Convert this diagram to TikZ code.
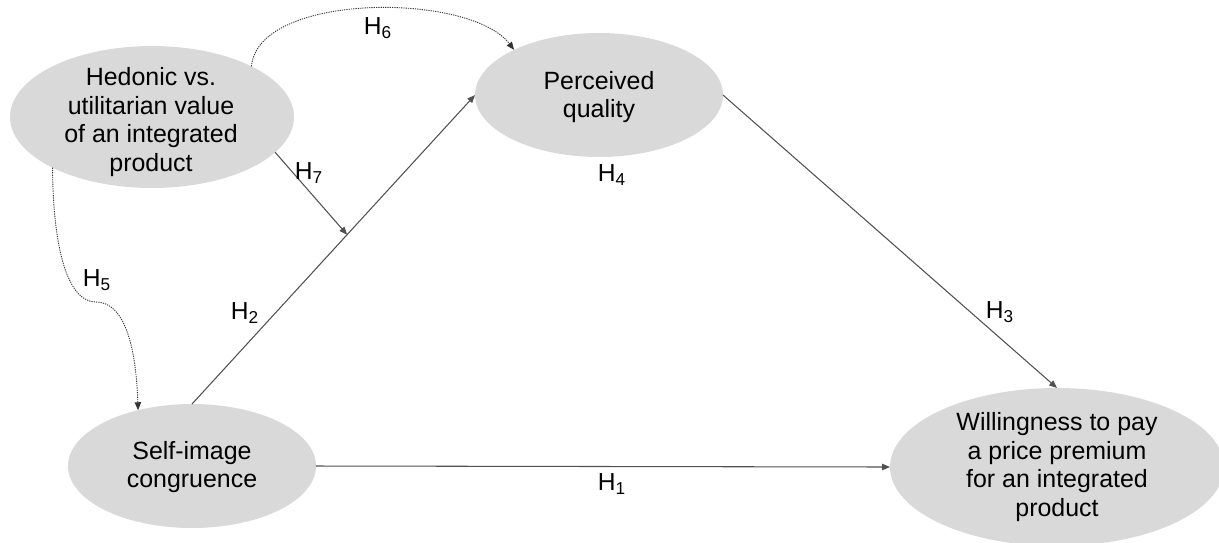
\documentclass[tikz,border=0pt]{standalone}
\usepackage{fontspec}
\setmainfont{Liberation Sans}
\usetikzlibrary{shapes.geometric,arrows.meta,calc}
\definecolor{ellfill}{HTML}{D9D9D9}
\definecolor{linecol}{HTML}{505050}
\tikzset{
  ell/.style={ellipse, fill=ellfill, draw=none, inner sep=0pt, outer sep=0pt},
  txt/.style={align=center, font=\fontsize{14.2}{16.3}\selectfont, inner sep=0pt},
  lab/.style={font=\fontsize{14}{16}\selectfont, inner sep=0pt},
  tip/.style={-{Triangle[length=4.5pt,width=3.6pt]}},
  solidarrow/.style={tip, draw=linecol, line width=0.6pt},
  dotarrow/.style={tip, draw=black!80, line width=0.5pt, dash pattern=on 0.7pt off 0.6pt}
}
\begin{document}
\begin{tikzpicture}[x=0.02cm,y=-0.02cm]
\useasboundingbox (0,0) rectangle (1219,542);
% ellipses
\node[ell, minimum width=5.68cm, minimum height=2.84cm] (hv) at (152,117) {};
\node[ell, minimum width=4.96cm, minimum height=2.48cm] (pq) at (599,95) {};
\node[ell, minimum width=4.96cm, minimum height=2.48cm] (sic) at (192,466) {};
\node[ell, minimum width=6.68cm, minimum height=3.16cm] (wtp) at (1057,467) {};
% texts
\node[txt] (hvt) at (151,122) {Hedonic vs.\\utilitarian value\\of an integrated\\product};
\node[txt] (pqt) at (599,97) {Perceived\\quality};
\node[txt] (sict) at (192,467) {Self-image\\congruence};
\node[txt] (wtpt) at (1057,467) {Willingness to pay\\a price premium\\for an integrated\\product};
% connectors
\draw[solidarrow] (sic.north) -- coordinate[pos=0.548] (m) (pq.west);
\draw[solidarrow] (pq.east) -- (wtp.north);
\draw[solidarrow] (sic.east) -- (wtp.west);
\draw[solidarrow] (hv.-16) -- (m);
\coordinate (k5) at (96,302);
\draw[dotarrow] (hv.27.5) .. controls (258,-8) and (470,-8) .. (pq.152);
\draw[dotarrow] (hv.207) .. controls (53,250) and (68,302) .. (k5) .. controls (124,302) and (136,345) .. (sic.134);
% labels
\node[lab] (h1) at (612,484) {H\textsubscript{1}};
\node[lab] (h2) at (245,313) {H\textsubscript{2}};
\node[lab] (h3) at (1000,312) {H\textsubscript{3}};
\node[lab] (h4) at (612,175) {H\textsubscript{4}};
\node[lab] (h5) at (97,280) {H\textsubscript{5}};
\node[lab] (h6) at (378,28) {H\textsubscript{6}};
\node[lab] (h7) at (309,173) {H\textsubscript{7}};
\end{tikzpicture}
\end{document}
